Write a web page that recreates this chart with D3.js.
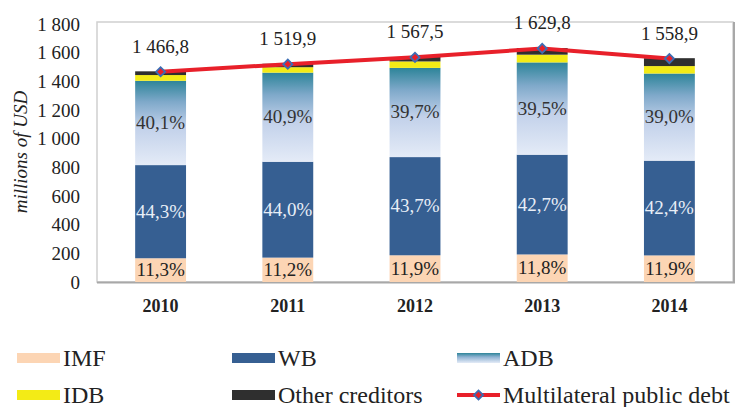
<!DOCTYPE html>
<html>
<head>
<meta charset="utf-8">
<script src="https://cdn.jsdelivr.net/npm/d3@7"></script>
<style>
  body { margin: 0; background: #fff; }
  svg text { font-family: 'Liberation Serif', Tinos, 'Times New Roman', Times, 'DejaVu Serif', serif !important; }
</style>
</head>
<body>
<svg id="chart" width="735" height="407"></svg>
<script>
// data, millions of USD
const years = ["2010", "2011", "2012", "2013", "2014"];
const imf = [165.8, 170.2, 186.5, 192.3, 185.5];
const wb = [649.8, 668.8, 685.0, 695.9, 661.0];
const adb = [588.2, 621.6, 622.3, 643.8, 608.0];
const idb = [40, 38, 45, 54, 52];
const other = [26, 24, 31, 46, 55];
const totals = [1466.8, 1519.9, 1567.5, 1629.8, 1558.9];

// shares printed on the bars (%)
const imfPct = [11.3, 11.2, 11.9, 11.8, 11.9];
const wbPct = [44.3, 44.0, 43.7, 42.7, 42.4];
const adbPct = [40.1, 40.9, 39.7, 39.5, 39.0];

const yTicks = [0, 200, 400, 600, 800, 1000, 1200, 1400, 1600, 1800];

const keys = ["imf", "wb", "adb", "idb", "other"];
const names = {imf: "IMF", wb: "WB", adb: "ADB", idb: "IDB", other: "Other creditors"};
const colors = {imf: "#fcd5b4", wb: "#365f92", adb: "url(#adbGrad)", idb: "#f3eb16", other: "#2f2f2f"};

const serif = "'Liberation Serif', Tinos, 'Times New Roman', serif";

const loc = d3.formatLocale({decimal: ",", thousands: " ", grouping: [3], currency: ["", ""]});
const fmtInt = loc.format(",d");
const fmtTot = loc.format(",.1f");
const fmtPct = loc.format(".1f");

const svg = d3.select("#chart").attr("font-family", serif);
const plot = {left: 97, right: 733, top: 22, bottom: 282};

const x = d3.scaleBand().domain(years)
    .range([plot.left, plot.right])
    .paddingInner(0.6).paddingOuter(0.3);
const y = d3.scaleLinear().domain([0, 1800]).range([plot.bottom, 24]);

// gradient for ADB
const defs = svg.append("defs");
const grad = defs.append("linearGradient")
    .attr("id", "adbGrad").attr("x1", 0).attr("y1", 0).attr("x2", 0).attr("y2", 1);
[[0, "#2d8499"], [0.25, "#7fa9ca"], [0.55, "#c2d1ea"], [1, "#e4ebf7"]].forEach(s => {
    grad.append("stop").attr("offset", s[0]).attr("stop-color", s[1]);
});

// plot frame
svg.append("rect")
    .attr("x", plot.left).attr("y", plot.top)
    .attr("width", plot.right - plot.left).attr("height", plot.bottom - plot.top)
    .attr("fill", "none").attr("stroke", "#d0d0d0").attr("stroke-width", 1.5);
svg.append("path")
    .attr("d", `M${plot.left},${plot.bottom + 0.5}H${plot.right + 1}V${plot.top}`)
    .attr("fill", "none").attr("stroke", "#a8a8a8").attr("stroke-width", 2);

// stacked bars
const rows = years.map((yr, i) => ({
    year: yr, imf: imf[i], wb: wb[i], adb: adb[i], idb: idb[i], other: other[i]
}));
const stacked = d3.stack().keys(keys)(rows);

svg.append("g").selectAll("g")
    .data(stacked)
    .join("g")
    .attr("fill", d => colors[d.key])
    .selectAll("rect")
    .data(d => d)
    .join("rect")
    .attr("x", d => x(d.data.year))
    .attr("width", x.bandwidth())
    .attr("y", d => y(d[1]))
    .attr("height", d => y(d[0]) - y(d[1]));

// percent labels
const pctLayers = [
    {key: 0, vals: imfPct, color: "#222"},
    {key: 1, vals: wbPct, color: "#e8eef7"},
    {key: 2, vals: adbPct, color: "#333"}
];
pctLayers.forEach(layer => {
    svg.append("g").selectAll("text")
        .data(stacked[layer.key])
        .join("text")
        .attr("x", d => x(d.data.year) + x.bandwidth() / 2)
        .attr("y", d => y((d[0] + d[1]) / 2) + 6)
        .attr("text-anchor", "middle")
        .attr("font-size", 19)
        .attr("fill", layer.color)
        .text((d, i) => fmtPct(layer.vals[i]) + "%");
});

// y axis
const yAxis = svg.append("g")
    .attr("transform", `translate(${plot.left - 17},0)`)
    .call(d3.axisLeft(y).tickValues(yTicks).tickSize(0).tickPadding(0).tickFormat(fmtInt));
yAxis.attr("font-family", serif);
yAxis.select(".domain").remove();
yAxis.selectAll("text")
    .attr("font-size", 19).attr("fill", "#222");

svg.append("text")
    .attr("transform", "translate(27,152) rotate(-90)")
    .attr("text-anchor", "middle")
    .attr("font-size", 19).attr("font-style", "italic").attr("fill", "#222")
    .text("millions of USD");

// x axis labels
svg.append("g").selectAll("text")
    .data(years)
    .join("text")
    .attr("x", d => x(d) + x.bandwidth() / 2)
    .attr("y", 312)
    .attr("text-anchor", "middle")
    .attr("font-size", 18).attr("font-weight", "bold").attr("fill", "#222")
    .text(d => d);

// total line
const cx = i => x(years[i]) + x.bandwidth() / 2;
const line = d3.line().x((d, i) => cx(i)).y(d => y(d));
svg.append("path")
    .datum(totals)
    .attr("d", line)
    .attr("fill", "none").attr("stroke", "#e8202a").attr("stroke-width", 4);

const diamond = d3.symbol().type(d3.symbolSquare).size(42);
svg.append("g").selectAll("path")
    .data(totals)
    .join("path")
    .attr("d", diamond)
    .attr("transform", (d, i) => `translate(${cx(i)},${y(d)}) rotate(45)`)
    .attr("fill", "#e8202a").attr("stroke", "#3c6db4").attr("stroke-width", 1.8);

svg.append("g").selectAll("text")
    .data(totals)
    .join("text")
    .attr("x", (d, i) => cx(i))
    .attr("y", d => y(d) - 19)
    .attr("text-anchor", "middle")
    .attr("font-size", 19).attr("fill", "#222")
    .text(d => fmtTot(d));

// legend
const legendItems = [
    {label: names.imf, fill: colors.imf, col: 0, row: 0},
    {label: names.wb, fill: colors.wb, col: 1, row: 0},
    {label: names.adb, fill: "url(#adbLeg)", col: 2, row: 0},
    {label: names.idb, fill: colors.idb, col: 0, row: 1},
    {label: names.other, fill: colors.other, col: 1, row: 1},
    {label: "Multilateral public debt", line: true, col: 2, row: 1}
];
const legGrad = defs.append("linearGradient")
    .attr("id", "adbLeg").attr("x1", 0).attr("y1", 0).attr("x2", 0).attr("y2", 1);
[[0, "#2d8499"], [0.4, "#8fb2d2"], [1, "#e4ebf7"]].forEach(s => {
    legGrad.append("stop").attr("offset", s[0]).attr("stop-color", s[1]);
});

const colX = [17, 232, 457];
const rowY = [358, 395];
const leg = svg.append("g");
legendItems.forEach(it => {
    const lx = colX[it.col], ly = rowY[it.row];
    if (it.line) {
        leg.append("line")
            .attr("x1", lx).attr("x2", lx + 43).attr("y1", ly).attr("y2", ly)
            .attr("stroke", "#e8202a").attr("stroke-width", 4);
        leg.append("path")
            .attr("d", diamond)
            .attr("transform", `translate(${lx + 21.5},${ly}) rotate(45)`)
            .attr("fill", "#e8202a").attr("stroke", "#3c6db4").attr("stroke-width", 1.8);
    } else {
        leg.append("rect")
            .attr("x", lx).attr("y", ly - 5).attr("width", 43).attr("height", 10)
            .attr("fill", it.fill);
    }
    leg.append("text")
        .attr("x", lx + 46).attr("y", ly + 8)
        .attr("font-size", 24).attr("fill", "#222")
        .text(it.label);
});
</script>
</body>
</html>
